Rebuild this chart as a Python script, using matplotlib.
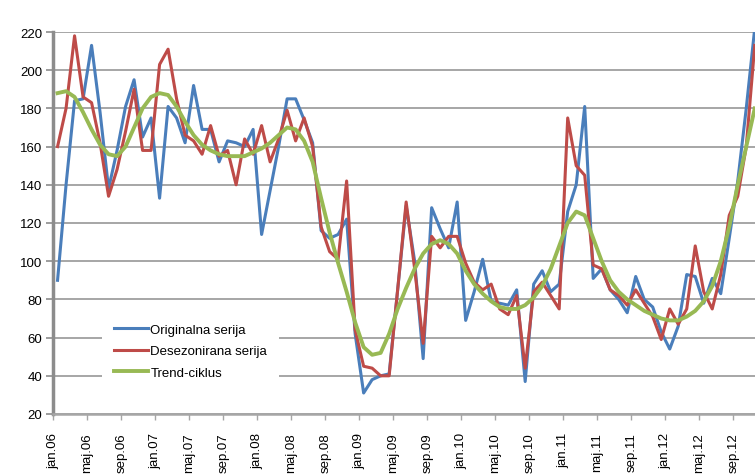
import numpy as np
import matplotlib
matplotlib.use("Agg")
import matplotlib.pyplot as plt

plt.rcParams['font.family'] = ['Liberation Sans', 'DejaVu Sans']

# monthly series jan.06 .. nov.12
originalna = [90, 140, 184, 185, 213, 178, 138, 158, 181, 195,
              165, 175, 133, 181, 175, 162, 192, 169, 169, 152,
              163, 162, 160, 169, 114, 137, 160, 185, 185, 174,
              162, 116, 112, 114, 122, 62, 31, 38, 40, 41,
              85, 129, 100, 49, 128, 117, 107, 131, 69, 84,
              101, 79, 78, 77, 85, 37, 88, 95, 84, 88,
              126, 140, 181, 91, 96, 85, 80, 73, 92, 80,
              76, 63, 54, 66, 93, 92, 78, 91, 83, 112,
              142, 180, 222]
desezonirana = [160, 180, 218, 186, 183, 162, 134, 148, 168, 190,
                158, 158, 203, 211, 185, 166, 163, 156, 171, 155,
                158, 140, 164, 156, 171, 152, 164, 179, 163, 175,
                160, 118, 105, 101, 142, 64, 45, 44, 40, 40,
                85, 131, 96, 57, 113, 107, 113, 113, 99, 89,
                85, 88, 75, 72, 82, 44, 84, 89, 82, 75,
                175, 150, 145, 98, 96, 85, 82, 77, 85, 78,
                71, 59, 75, 67, 75, 108, 84, 75, 93, 124,
                134, 160, 213]
trend = [188, 189, 186, 178, 169, 161, 156, 155, 160, 170,
         180, 186, 188, 187, 181, 173, 166, 161, 158, 156,
         155, 155, 155, 157, 159, 162, 166, 170, 169, 163,
         152, 133, 115, 99, 84, 68, 55, 51, 52, 62,
         75, 86, 96, 104, 109, 111, 109, 104, 95, 88,
         83, 79, 76, 75, 75, 77, 81, 87, 96, 108,
         120, 126, 124, 112, 100, 90, 84, 80, 77, 74,
         72, 70, 69, 69, 71, 74, 79, 87, 100, 118,
         140, 160, 180]

tick_labels = ['jan.06', 'maj.06', 'sep.06', 'jan.07', 'maj.07', 'sep.07',
               'jan.08', 'maj.08', 'sep.08', 'jan.09', 'maj.09', 'sep.09',
               'jan.10', 'maj.10', 'sep.10', 'jan.11', 'maj.11', 'sep.11',
               'jan.12', 'maj.12', 'sep.12']

x = np.arange(len(originalna))

fig = plt.figure(figsize=(7.55, 4.77), dpi=100)
ax = fig.add_axes([53.3 / 755, 1 - 415 / 477, 705.7 / 755, 382 / 477])

ax.plot(x, originalna, color='#4A7EBB', lw=2.2, label='Originalna serija', zorder=3)
ax.plot(x, desezonirana, color='#BE4B48', lw=2.2, label='Desezonirana serija', zorder=4)
ax.plot(x, trend, color='#98B954', lw=2.8, label='Trend-ciklus', zorder=5)

ax.set_xlim(-0.5, len(x) - 0.5)
ax.set_ylim(20, 220)
ax.set_yticks(np.arange(20, 221, 20))
ax.set_xticks(np.arange(0, len(tick_labels) * 4, 4) - 0.5)
ax.set_xticklabels(tick_labels, rotation=90, va='top', ha='center')

ax.grid(axis='y', color='#A6A6A6', lw=1.4)
ax.set_axisbelow(True)
for s in ['top', 'right']:
    ax.spines[s].set_visible(False)
ax.spines['left'].set_color('#8C8C8C')
ax.spines['left'].set_linewidth(2.5)
ax.spines['bottom'].set_color('#A6A6A6')
ax.spines['bottom'].set_linewidth(1.8)
ax.tick_params(axis='y', length=5, width=1.2, color='#8C8C8C', labelsize=9.5, pad=3)
ax.tick_params(axis='x', length=4, width=1.0, color='#A6A6A6', labelsize=9.5, pad=9)

leg = ax.legend(loc='upper left', bbox_to_anchor=(0.06, 0.285), frameon=True,
                fontsize=9.5, handlelength=2.6, handletextpad=0.15,
                labelspacing=0.7, borderpad=0.9)
leg.get_frame().set_facecolor('white')
leg.get_frame().set_edgecolor('none')
leg.get_frame().set_alpha(1)

fig.savefig('out.png', dpi=100)
